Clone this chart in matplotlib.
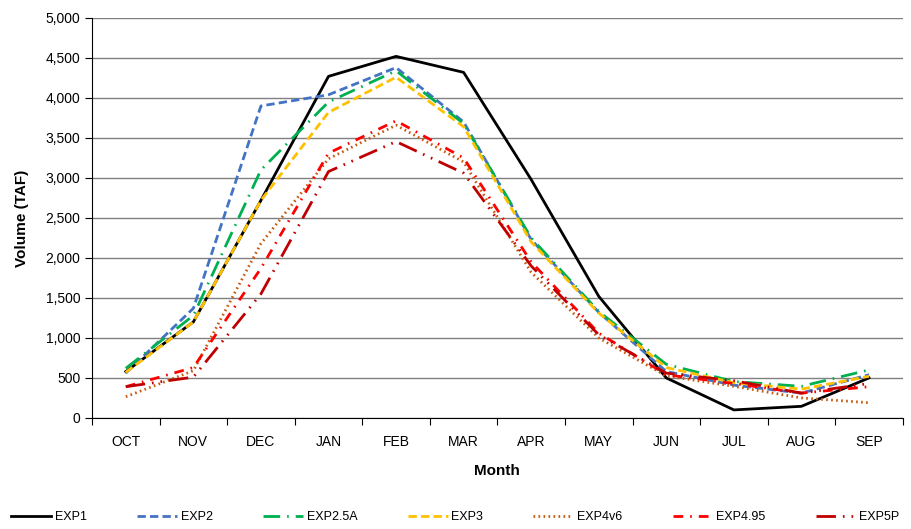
import matplotlib.pyplot as plt
from matplotlib.ticker import FuncFormatter, FixedLocator

plt.rcParams['font.family'] = ['Liberation Sans', 'DejaVu Sans']

months = ['OCT', 'NOV', 'DEC', 'JAN', 'FEB', 'MAR', 'APR', 'MAY', 'JUN', 'JUL', 'AUG', 'SEP']

exp1 = [580, 1200, 2720, 4270, 4520, 4320, 2980, 1520, 500, 100, 145, 500]
exp2 = [560, 1370, 3900, 4040, 4380, 3700, 2230, 1320, 580, 410, 310, 540]
exp25a = [620, 1280, 3100, 3950, 4340, 3680, 2250, 1330, 670, 455, 395, 600]
exp3 = [570, 1200, 2720, 3820, 4260, 3640, 2200, 1310, 630, 440, 360, 520]
exp4v6 = [265, 590, 2180, 3240, 3660, 3200, 1820, 1000, 525, 395, 250, 190]
exp495 = [390, 630, 1870, 3310, 3715, 3250, 1950, 1060, 540, 430, 310, 390]
exp5p = [390, 510, 1550, 3080, 3455, 3060, 1900, 1040, 560, 465, 310, 430]

series = [
    ('EXP1', exp1, '#000000', '-'),
    ('EXP2', exp2, '#4472C4', (0, (3, 1.5))),
    ('EXP2.5A', exp25a, '#00B050', (0, (6, 2.5, 0.6, 2.5))),
    ('EXP3', exp3, '#FFC000', (0, (3, 1.5))),
    ('EXP4v6', exp4v6, '#C55A11', (0, (0.6, 1.2))),
    ('EXP4.95', exp495, '#FF0000', (0, (3.5, 2.5, 0.6, 2.5))),
    ('EXP5P', exp5p, '#C00000', (0, (7, 2.5, 0.6, 2.5, 0.6, 2.5))),
]

fig = plt.figure(figsize=(9.11, 5.29), dpi=100)
ax = fig.add_axes([0.101, 0.21, 0.89, 0.756])

x = list(range(len(months)))
for name, vals, color, ls in series:
    ax.plot(x, vals, color=color, linestyle=ls, linewidth=2, label=name,
            dash_capstyle='butt')

ax.set_xlim(-0.5, len(months) - 0.5)
ax.set_ylim(0, 5000)
ax.set_yticks(range(0, 5001, 500))
ax.yaxis.set_major_formatter(FuncFormatter(lambda v, p: f'{int(v):,}'))
ax.grid(axis='y', color='#808080', linewidth=1)
ax.set_axisbelow(True)

# ticks between months, labels centred on each month
ax.xaxis.set_major_locator(FixedLocator([i - 0.5 for i in range(len(months) + 1)]))
ax.xaxis.set_major_formatter(FuncFormatter(lambda v, p: ''))
ax.set_xticks(x, minor=True)
ax.set_xticklabels(months, minor=True)
ax.tick_params(axis='x', which='minor', length=0, labelsize=10, pad=12)
ax.tick_params(axis='x', which='major', length=5, direction='out', color='black')
ax.tick_params(axis='y', length=5, direction='out', labelsize=10, color='black')

for s in ['top', 'right']:
    ax.spines[s].set_visible(False)
ax.spines['left'].set_color('black')
ax.spines['bottom'].set_color('black')

ax.set_xlabel('Month', fontsize=11, fontweight='bold', labelpad=11)
ax.set_ylabel('Volume (TAF)', fontsize=11, fontweight='bold', labelpad=12)

fig.legend(loc='lower left', bbox_to_anchor=(0.0, -0.01, 1.0, 0.04), mode='expand',
           ncol=7, frameon=False, fontsize=9, handlelength=3.2, handletextpad=0.3)

fig.savefig('out.png', dpi=100)
